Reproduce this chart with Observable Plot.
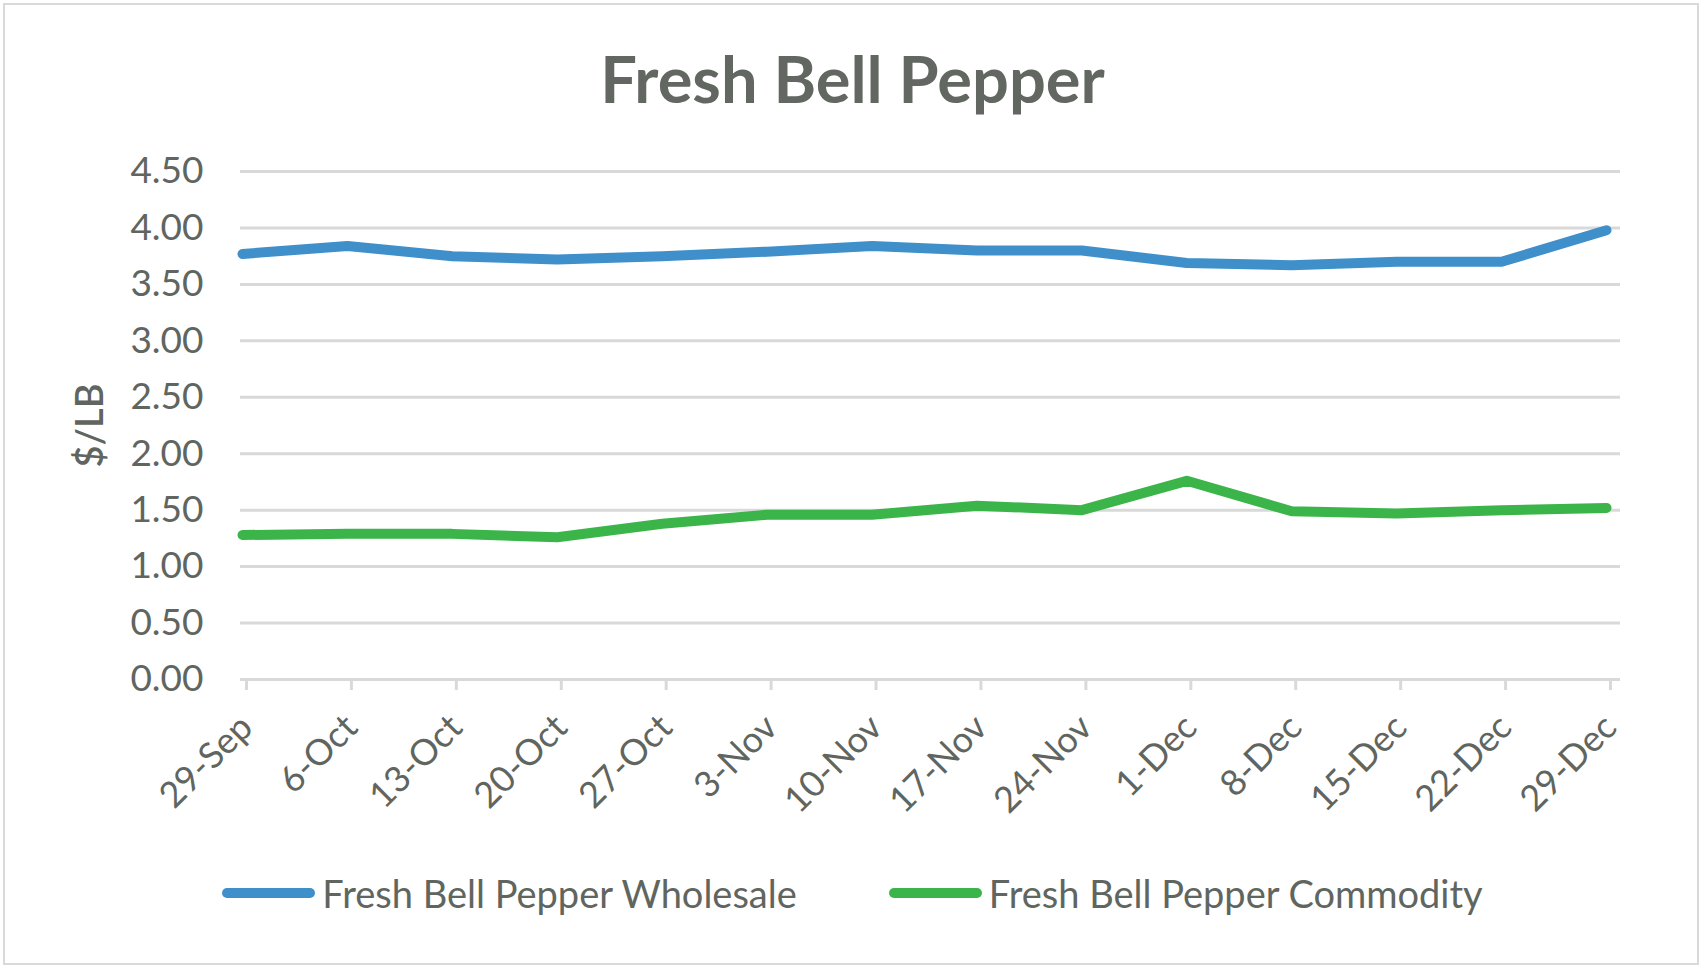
<!DOCTYPE html>
<html>
<head>
<meta charset="utf-8">
<script src="https://cdn.jsdelivr.net/npm/d3@7"></script>
<script src="https://cdn.jsdelivr.net/npm/@observablehq/plot@0.6"></script>
<style>
  html, body { margin: 0; padding: 0; background: #fff; }
  #chart {
    position: relative; width: 1705px; height: 971px; box-sizing: border-box;
    font-family: Lato, "Open Sans", sans-serif; color: #606560; overflow: hidden;
  }
  #frame { position: absolute; left: 3px; top: 3px; width: 1696px; height: 962px;
    border: 2px solid #d9d9d9; box-sizing: border-box; }
  #title { position: absolute; left: 0; top: 44px; width: 100%; text-align: center;
    font-weight: 700; font-size: 65px; line-height: 68px; color: #626762; }
  #plot { position: absolute; left: 0; top: 130px; }
  #legend { position: absolute; left: 0; top: 871px; width: 100%; height: 44px;
    display: flex; justify-content: center; align-items: center; gap: 92px;
    font-size: 38px; line-height: 44px; color: #606560; }
  .item { display: flex; align-items: center; gap: 7px; }
  .swatch { width: 93px; height: 10px; border-radius: 5px; }
</style>
</head>
<body>
<div id="chart">
  <div id="frame"></div>
  <div id="title">Fresh Bell Pepper</div>
  <div id="plot"></div>
  <div id="legend"></div>
</div>
<script>
const dates = ["29-Sep","6-Oct","13-Oct","20-Oct","27-Oct","3-Nov","10-Nov","17-Nov","24-Nov","1-Dec","8-Dec","15-Dec","22-Dec","29-Dec"];
const wholesale = [3.77,3.84,3.75,3.72,3.75,3.79,3.84,3.80,3.80,3.69,3.67,3.70,3.70,3.98];
const commodity = [1.28,1.29,1.29,1.26,1.38,1.46,1.46,1.54,1.50,1.76,1.49,1.47,1.50,1.52];
const seriesNames = ["Fresh Bell Pepper Wholesale","Fresh Bell Pepper Commodity"];
const seriesColors = ["#3f8fcb","#3bb54a"];
const yTicks = [0,0.5,1,1.5,2,2.5,3,3.5,4,4.5];

const rows = [];
dates.forEach((d, i) => {
  rows.push({date: d, value: wholesale[i], series: seriesNames[0]});
  rows.push({date: d, value: commodity[i], series: seriesNames[1]});
});

const plot = Plot.plot({
  width: 1705,
  height: 720,
  marginTop: 41,
  marginBottom: 171,
  marginLeft: 242,
  marginRight: 99,
  style: {fontFamily: "Lato, 'Open Sans', sans-serif", color: "#606560", background: "transparent"},
  x: {type: "point", domain: dates, padding: 0, round: false},
  y: {domain: [0, 4.5]},
  color: {domain: seriesNames, range: seriesColors},
  marks: [
    Plot.ruleY(yTicks.filter(t => t > 0), {stroke: "#d9d9d9", strokeWidth: 3, insetLeft: -2, insetRight: -14}),
    Plot.ruleY([0], {stroke: "#d9d9d9", strokeWidth: 3, insetLeft: -2, insetRight: -14}),
    Plot.axisY({ticks: yTicks, tickFormat: d3.format(".2f"), tickSize: 0, tickPadding: 39,
      fontSize: 37, fill: "#606560", label: "$/LB", labelAnchor: "center", labelArrow: "none", labelOffset: 166}),
    Plot.axisX({tickSize: 11, stroke: "#d9d9d9", strokeWidth: 3, tickRotate: -45, tickPadding: 31, dx: 4,
      fontSize: 36, fill: "#606560", label: null}),
    Plot.line(rows, {x: "date", y: "value", z: "series", stroke: "series", strokeWidth: 10,
      strokeLinecap: "round", strokeLinejoin: "round"})
  ]
});
document.getElementById("plot").appendChild(plot);

// style the y-axis label
plot.querySelectorAll("text").forEach(t => {
  if (t.textContent === "$/LB") { t.style.fontSize = "38px"; t.style.fontWeight = "600"; }
});

const legend = document.getElementById("legend");
seriesNames.forEach((name, i) => {
  const item = document.createElement("div");
  item.className = "item";
  const sw = document.createElement("div");
  sw.className = "swatch";
  sw.style.background = seriesColors[i];
  const lab = document.createElement("span");
  lab.textContent = name;
  item.appendChild(sw); item.appendChild(lab);
  legend.appendChild(item);
});
</script>
</body>
</html>
